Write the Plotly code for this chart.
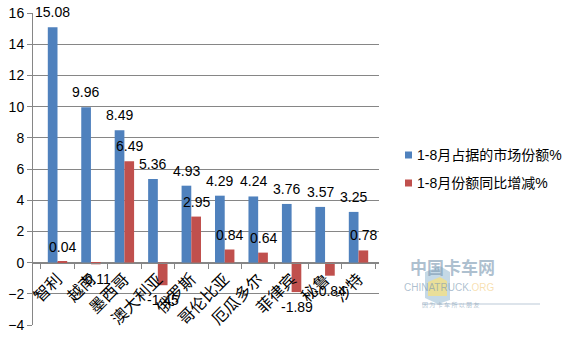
import plotly.graph_objects as go

categories = ["智利", "越南", "墨西哥", "澳大利亚", "俄罗斯", "哥伦比亚", "厄瓜多尔", "菲律宾", "秘鲁", "沙特"]
share = [15.08, 9.96, 8.49, 5.36, 4.93, 4.29, 4.24, 3.76, 3.57, 3.25]
change = [0.04, -0.11, 6.49, -1.45, 2.95, 0.84, 0.64, -1.89, -0.84, 0.78]
series_names = ["1-8月占据的市场份额%", "1-8月份额同比增减%"]
colors = ["#4F81BD", "#C0504D"]
y_ticks = [-4, -2, 0, 2, 4, 6, 8, 10, 12, 14, 16]

FONT = "Liberation Sans, Noto Sans CJK SC, sans-serif"
GRID = "#868686"

fig = go.Figure()
for name, vals, col in zip(series_names, [share, change], colors):
    fig.add_trace(go.Bar(x=categories, y=vals, name=name, marker_color=col,
                         marker_line_width=0, showlegend=False))

# data labels
for vals, xs in [(share, -5), (change, 5)]:
    for c, v in zip(categories, vals):
        fig.add_annotation(x=c, y=v, text=f"{v:.2f}", showarrow=False,
                           xshift=xs, yshift=15 if v >= 0 else -15,
                           font=dict(family=FONT, size=14, color="#000000"))

# manual legend
L, T, W, H = 33, 13, 346, 312
def px(x):
    return (x - L) / W
def py(y):
    return 1 - (y - T) / H
for i, (name, col) in enumerate(zip(series_names, colors)):
    yc = 155 + 28 * i
    fig.add_shape(type="rect", xref="paper", yref="paper",
                  x0=px(405), x1=px(412), y0=py(yc - 3.5), y1=py(yc + 3.5),
                  fillcolor=col, line_width=0)
    fig.add_annotation(xref="paper", yref="paper", x=px(415), y=py(yc),
                       xanchor="left", yanchor="middle", showarrow=False,
                       text=name, font=dict(family=FONT, size=14, color="#000000"))

# watermark (faint)
fig.add_shape(type="path", xref="paper", yref="paper",
              path=f"M {px(425)} {py(272)} L {px(440)} {py(266)} L {px(450)} {py(272)} L {px(450)} {py(300)} L {px(438)} {py(304)} L {px(425)} {py(298)} Z",
              fillcolor="rgba(150,185,210,0.55)", line_width=0)
fig.add_shape(type="path", xref="paper", yref="paper",
              path=f"M {px(428)} {py(282)} L {px(440)} {py(277)} L {px(447)} {py(281)} L {px(447)} {py(296)} L {px(428)} {py(296)} Z",
              fillcolor="rgba(250,225,120,0.7)", line_width=0)
fig.add_annotation(xref="paper", yref="paper", x=px(497), y=py(281), showarrow=False,
                   text="<b>中国卡车网</b>", font=dict(family="Noto Sans CJK SC", size=17, color="rgba(120,150,175,0.6)"))
fig.add_annotation(xref="paper", yref="paper", x=px(497), y=py(295), showarrow=False,
                   text="CHINATRUCK.<span style='color:rgba(240,190,90,0.8)'>ORG</span>",
                   font=dict(family="Liberation Sans", size=10, color="rgba(120,150,175,0.6)"))
fig.add_shape(type="line", xref="paper", yref="paper", x0=px(422), x1=px(540), y0=py(304), y1=py(304),
              line=dict(color="rgba(120,150,175,0.5)", width=1))
fig.add_annotation(xref="paper", yref="paper", x=px(481), y=py(311), showarrow=False,
                   text="因 为 卡 车 所 以 朋 友", font=dict(family="Noto Sans CJK SC", size=6, color="rgba(120,150,175,0.6)"))

fig.update_layout(
    width=578, height=339,
    margin=dict(l=33, r=199, t=13, b=14, autoexpand=False),
    paper_bgcolor="white", plot_bgcolor="white",
    barmode="group", bargap=0.42, bargroupgap=0,
    font=dict(family=FONT, color="#000000"),
    xaxis=dict(type="category", anchor="free", position=0.2, showline=True, linecolor=GRID,
               linewidth=1, ticks="outside", tickson="boundaries", ticklen=5, tickcolor=GRID,
               tickangle=-45, tickfont=dict(family="Noto Sans CJK SC", size=16, color="#000000"),
               showgrid=False, automargin=False, fixedrange=True),
    yaxis=dict(range=[-4, 16], tickvals=y_ticks, showgrid=True, gridcolor=GRID, gridwidth=1,
               zeroline=False, showline=True, linecolor=GRID, ticks="outside", ticklen=5,
               tickcolor=GRID, tickfont=dict(family=FONT, size=14, color="#000000"),
               automargin=False),
)

fig.write_html("out.html")
